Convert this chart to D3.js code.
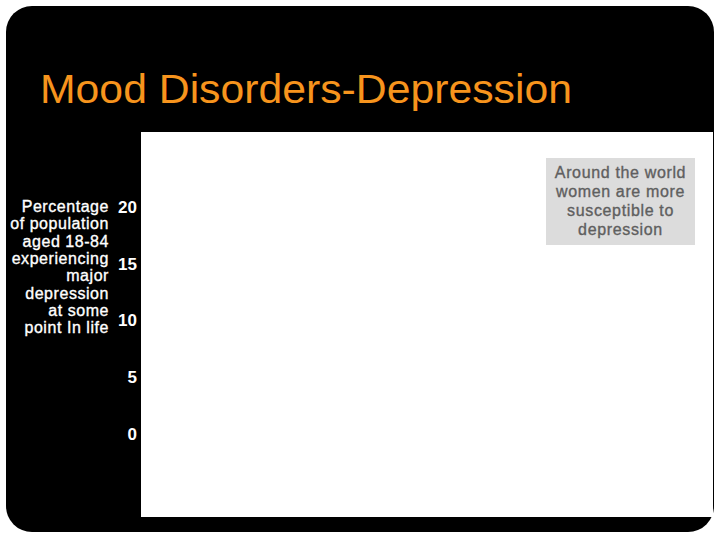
<!DOCTYPE html>
<html>
<head>
<meta charset="utf-8">
<script src="https://cdn.jsdelivr.net/npm/d3@7"></script>
<style>
  body { margin: 0; background: #fff; }
  svg { display: block; font-family: "Liberation Sans", Arial, sans-serif; }
</style>
</head>
<body>
<div id="chart"></div>
<script>
const W = 720, H = 540;

const title = "Mood Disorders-Depression";
const yDomain = [0, 20];
const yTicks = [0, 5, 10, 15, 20];
const yLabelLines = ["Percentage", "of population", "aged 18-84", "experiencing", "major", "depression", "at some", "point In life"];
const noteLines = ["Around the world", "women are more", "susceptible to", "depression"];

const svg = d3.select("#chart").append("svg").attr("width", W).attr("height", H);

// slide frame
svg.append("rect").attr("x", 6).attr("y", 6).attr("width", 708).attr("height", 526).attr("rx", 26).attr("fill", "#000");

svg.append("text")
  .attr("x", 40).attr("y", 103)
  .attr("fill", "#f7941d")
  .attr("font-size", 40)
  .attr("textLength", 532)
  .attr("lengthAdjust", "spacingAndGlyphs")
  .text(title);

// plot panel
const panel = { x: 141, y: 132, w: 572, h: 385 };
svg.append("rect").attr("x", panel.x).attr("y", panel.y).attr("width", panel.w).attr("height", panel.h).attr("fill", "#fff");

const y = d3.scaleLinear().domain(yDomain).range([434, 207]);

const axis = svg.append("g")
  .attr("transform", "translate(137,0)")
  .call(d3.axisLeft(y).tickValues(yTicks).tickSize(0).tickPadding(0));
axis.select(".domain").remove();
axis.selectAll("text")
  .attr("fill", "#fff")
  .attr("font-size", 17)
  .attr("font-weight", "bold")
  .attr("font-family", "Liberation Sans, Arial, sans-serif");

// axis title
svg.append("g").selectAll("text")
  .data(yLabelLines)
  .enter()
  .append("text")
  .attr("x", 109)
  .attr("y", (d, i) => 212 + i * 17.3)
  .attr("text-anchor", "end")
  .attr("fill", "#fff")
  .attr("stroke", "#fff")
  .attr("stroke-width", 0.35)
  .attr("font-size", 16)
  .attr("letter-spacing", 0.55)
  .text((d) => d);

// note box
svg.append("rect").attr("x", 546).attr("y", 158).attr("width", 149).attr("height", 87).attr("fill", "#dcdcdc");
svg.append("g").selectAll("text")
  .data(noteLines)
  .enter()
  .append("text")
  .attr("x", 620.5)
  .attr("y", (d, i) => 177.5 + i * 19.3)
  .attr("text-anchor", "middle")
  .attr("fill", "#5f5f5f")
  .attr("stroke", "#5f5f5f")
  .attr("stroke-width", 0.35)
  .attr("font-size", 16)
  .attr("letter-spacing", 0.65)
  .text((d) => d);
</script>
</body>
</html>
